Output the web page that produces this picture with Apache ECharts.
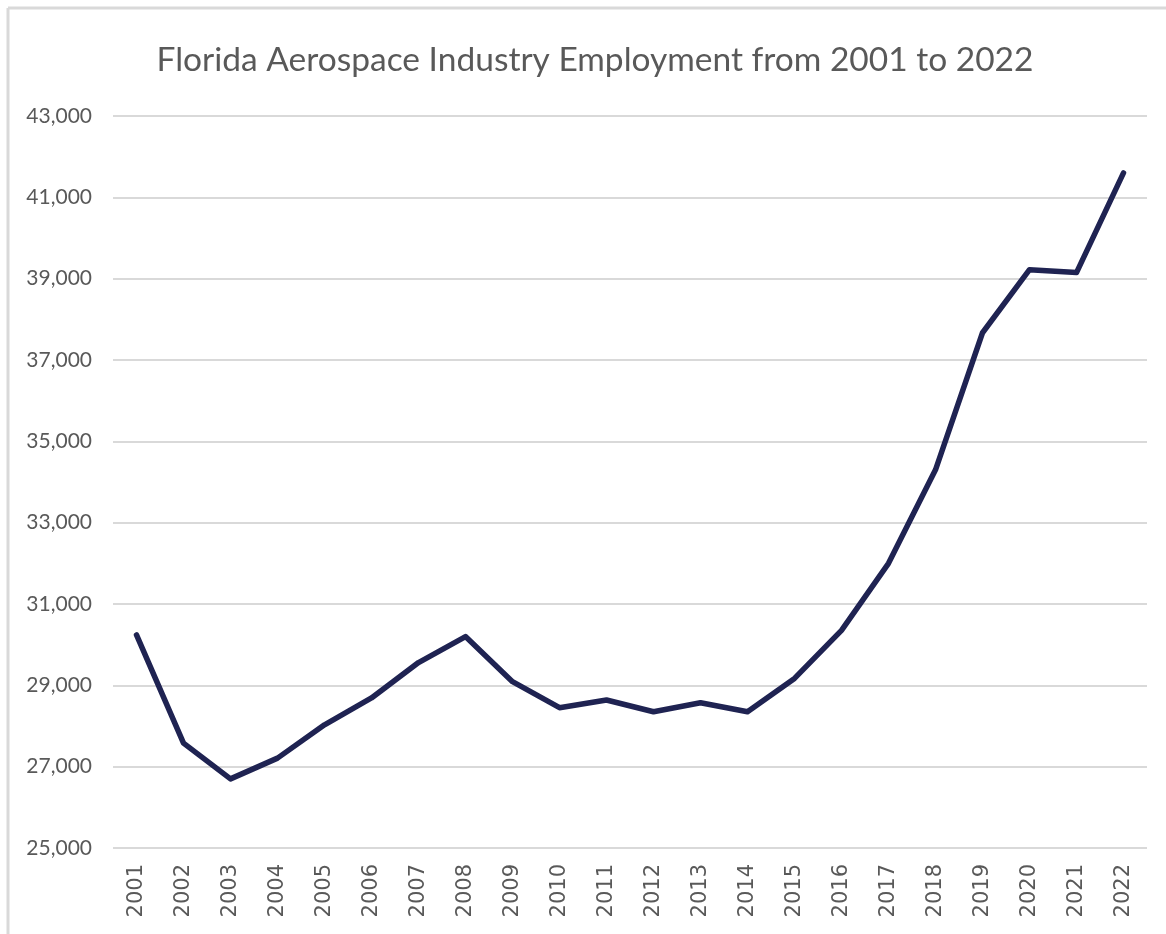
<!DOCTYPE html>
<html>
<head>
<meta charset="utf-8">
<script src="https://cdn.jsdelivr.net/npm/echarts@6/dist/echarts.min.js"></script>
<style>
html,body{margin:0;padding:0;background:#fff;}
#chart{width:1166px;height:934px;}
</style>
</head>
<body>
<div id="chart"></div>
<script>
const years = ['2001','2002','2003','2004','2005','2006','2007','2008','2009','2010','2011','2012','2013','2014','2015','2016','2017','2018','2019','2020','2021','2022'];
const employment = [30240,27580,26700,27210,28030,28690,29560,30200,29090,28450,28640,28350,28570,28350,29170,30350,32000,34300,37670,39220,39150,41600];
const titleText = 'Florida Aerospace Industry Employment from 2001 to 2022';

const chart = echarts.init(document.getElementById('chart'));
chart.setOption({
  backgroundColor: '#ffffff',
  animation: false,
  title: {
    text: titleText,
    left: 590, top: 38, textAlign: 'center',
    textStyle: {fontFamily: 'Lato', fontSize: 33.5, fontWeight: 'normal', color: '#595959'}
  },
  graphic: [
    {type: 'line', shape: {x1: 8, y1: 8, x2: 1166, y2: 8}, style: {stroke: '#d9d9d9', lineWidth: 3}},
    {type: 'line', shape: {x1: 8, y1: 8, x2: 8, y2: 934}, style: {stroke: '#d9d9d9', lineWidth: 3}}
  ],
  grid: {left: 113, right: 19, top: 116, bottom: 86},
  xAxis: {
    type: 'category',
    data: years,
    boundaryGap: true,
    axisLine: {show: false},
    axisTick: {show: false},
    axisLabel: {rotate: 90, margin: 16, fontFamily: 'DejaVu Sans', fontSize: 21, color: '#595959'}
  },
  yAxis: {
    type: 'value',
    min: 25000, max: 43000, interval: 2000,
    axisLine: {show: false},
    axisTick: {show: false},
    splitLine: {lineStyle: {color: '#d9d9d9', width: 2}},
    axisLabel: {
      margin: 21, fontFamily: 'Lato', fontSize: 21, color: '#595959',
      formatter: v => v.toLocaleString('en-US')
    }
  },
  series: [{
    type: 'line',
    data: employment,
    symbol: 'none',
    lineStyle: {color: '#1f2352', width: 5.5, join: 'round', cap: 'round'}
  }]
});
</script>
</body>
</html>
